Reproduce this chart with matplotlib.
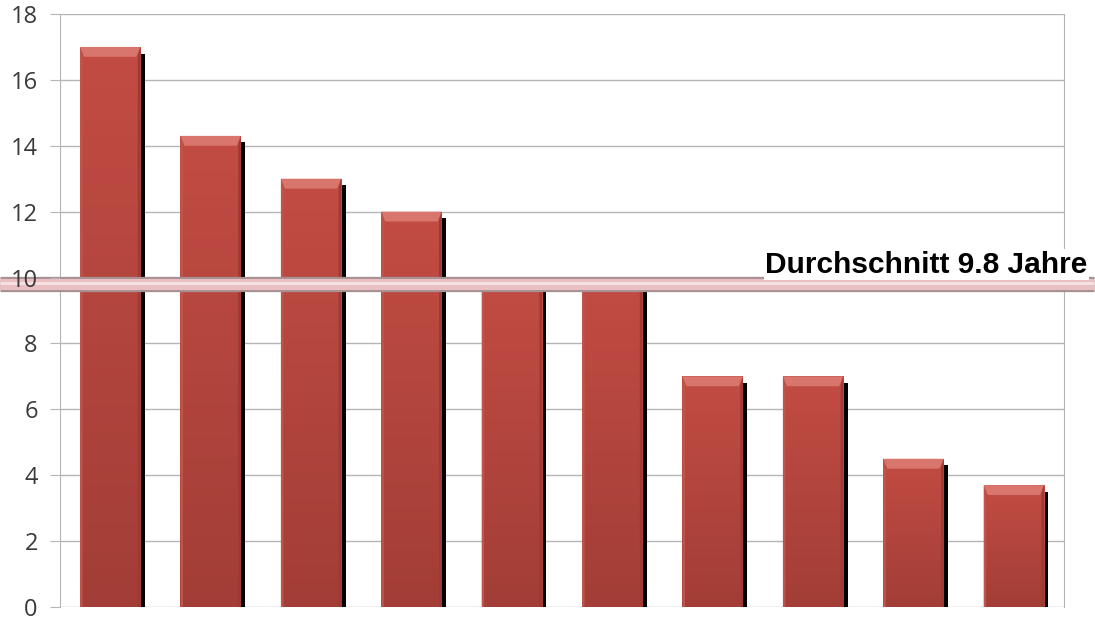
import numpy as np
import matplotlib.pyplot as plt
import matplotlib.transforms as mtransforms
from matplotlib.colors import LinearSegmentedColormap
from matplotlib.patches import Rectangle

# Balkenwerte (Jahre) und Durchschnitt
positionen = list(range(10))
werte = [17.0, 14.3, 13.0, 12.0, 10.0, 10.0, 7.0, 7.0, 4.5, 3.7]
durchschnitt = 9.8
y_ticks = [0, 2, 4, 6, 8, 10, 12, 14, 16, 18]

fig = plt.figure(figsize=(10.95, 6.21), dpi=100)
ax = fig.add_axes([0.0548, 0.0225, 0.9169, 0.955])

breite = 0.6
koerper = LinearSegmentedColormap.from_list("koerper", ["#a23e37", "#c24c43"])
grad = np.linspace(0, 1, 128).reshape(-1, 1)

for x, h in zip(positionen, werte):
    links, rechts = x - breite / 2, x + breite / 2
    # schwarzer Schatten rechts unten
    ax.add_patch(Rectangle((links + 0.045, 0), breite, h - 0.2,
                           facecolor="black", edgecolor="none", zorder=2))
    bar = Rectangle((links, 0), breite, h, facecolor="#b3443a",
                    edgecolor="none", zorder=3)
    ax.add_patch(bar)
    # Verlauf von unten dunkel nach oben hell
    img = ax.imshow(grad, cmap=koerper, origin="lower", aspect="auto",
                    extent=(links, rechts, 0, h), zorder=3.5, interpolation="bilinear")
    img.set_clip_path(bar)
    # abgeschraegte Oberkante
    kappe = 0.3
    ax.fill([links, rechts, rechts - 0.04, links + 0.04],
            [h, h, h - kappe, h - kappe], color="#d8766d", zorder=4, lw=0)
    ax.fill([links, links + 0.025, links + 0.025, links],
            [0, 0, h - kappe, h], color="#c0544b", zorder=4, lw=0)
    ax.fill([rechts, rechts - 0.025, rechts - 0.025, rechts],
            [0, 0, h - kappe, h], color="#9c3a33", zorder=4, lw=0)

ax.set_xlim(-0.5, 9.5)
ax.set_ylim(0, 18)
ax.set_yticks(y_ticks)
ax.set_xticks([])
# Gitterlinien separat, damit die Achsbeschriftung ueber der Linie liegt
for t in y_ticks:
    ax.axhline(t, color="#b5b5b5", linewidth=1.0, zorder=0)
ax.yaxis.set_zorder(9)
for name in ["top", "bottom"]:
    ax.spines[name].set_visible(False)
for name in ["left", "right"]:
    ax.spines[name].set_color("#b5b5b5")
    ax.spines[name].set_zorder(0.5)
ax.tick_params(axis="y", length=7, color="#b5b5b5", pad=9,
               labelsize=17, labelcolor="#3a3a3a")
for lbl in ax.get_yticklabels():
    lbl.set_family("Open Sans")

# Durchschnittslinie ueber die ganze Breite
trans = mtransforms.blended_transform_factory(ax.transAxes, ax.transData)
ax.plot([-0.06, 1.03], [durchschnitt, durchschnitt], transform=trans,
        color="#a89092", linewidth=11, solid_capstyle="butt", clip_on=False, zorder=6)
ax.plot([-0.06, 1.03], [durchschnitt, durchschnitt], transform=trans,
        color="#e9bfc2", linewidth=8, solid_capstyle="butt", clip_on=False, zorder=7)
ax.plot([-0.06, 1.03], [durchschnitt + 0.03, durchschnitt + 0.03], transform=trans,
        color="#f6e2e3", linewidth=2, solid_capstyle="butt", clip_on=False, zorder=7.5)

ax.text(1.0235, durchschnitt + 0.17, f"Durchschnitt {durchschnitt} Jahre",
        transform=trans, ha="right", va="bottom", fontsize=21.5, fontweight="bold",
        family="Liberation Sans", color="black", zorder=8,
        bbox=dict(facecolor="white", edgecolor="none", pad=1))

fig.savefig("out.png", dpi=100)
